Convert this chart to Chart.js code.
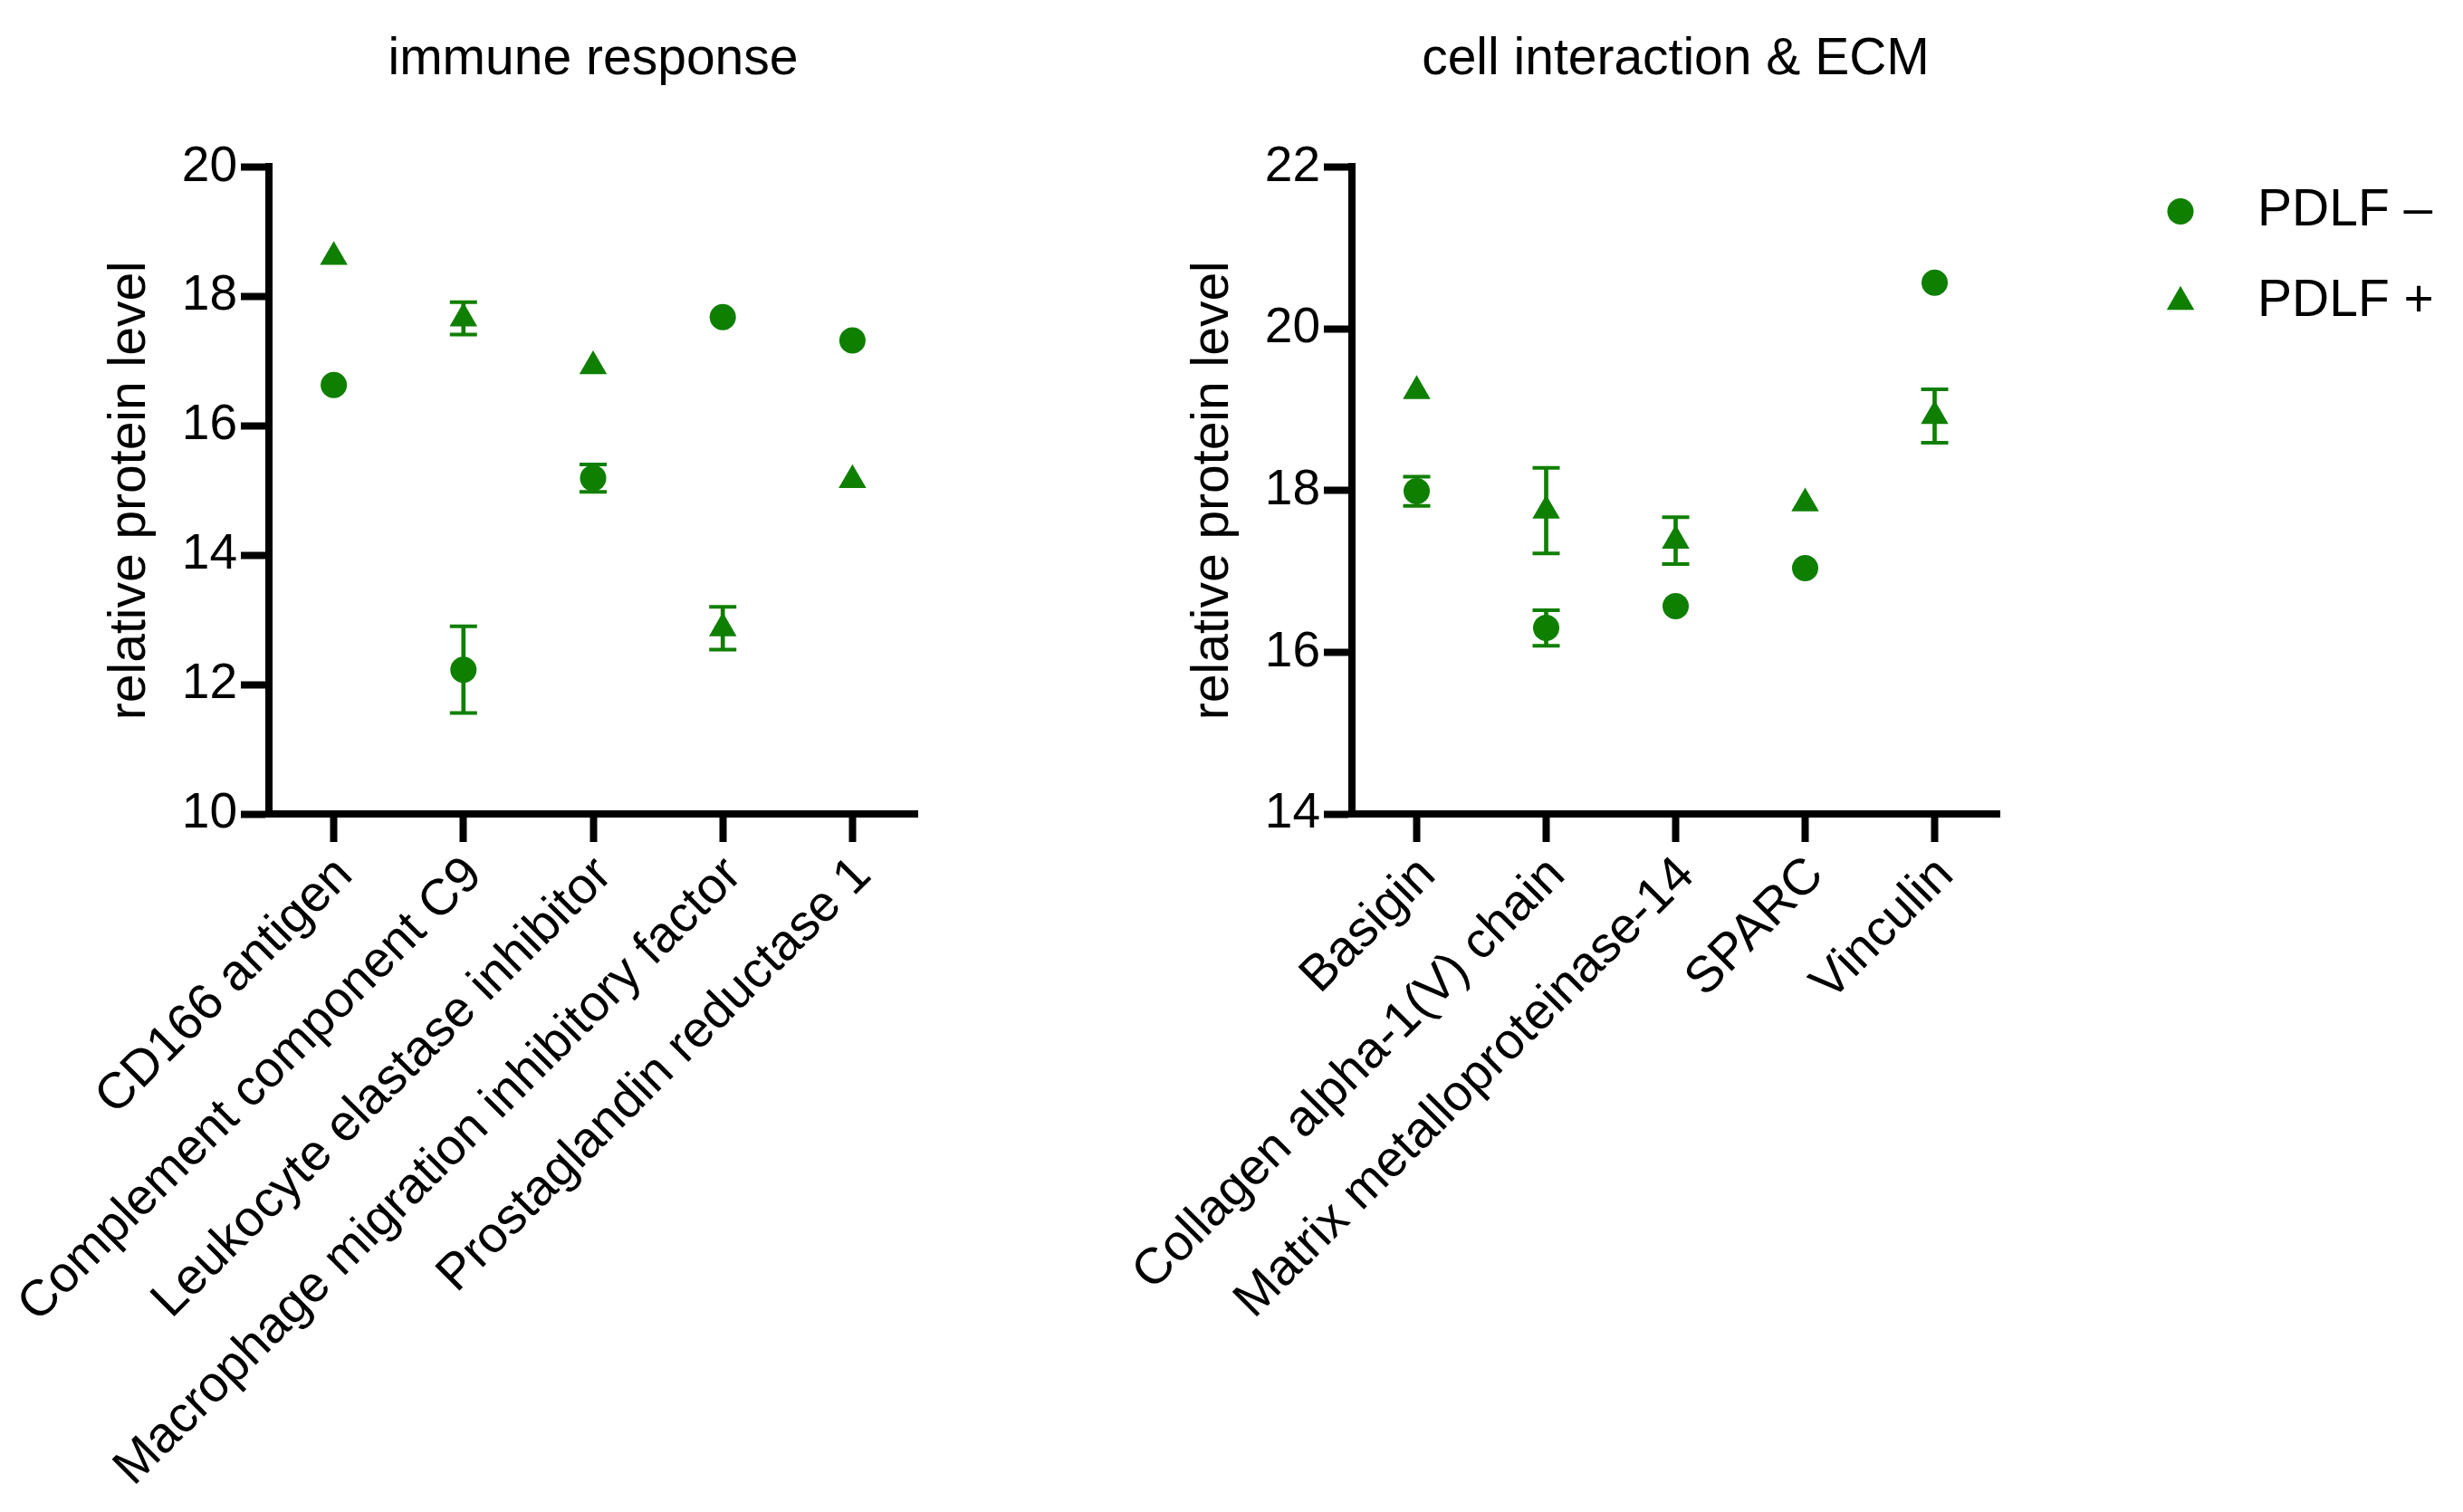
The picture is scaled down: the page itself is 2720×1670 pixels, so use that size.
<!DOCTYPE html>
<html>
<head>
<meta charset="utf-8">
<script src="https://cdn.jsdelivr.net/npm/chart.js"></script>
<style>
  html, body { margin: 0; padding: 0; background: #fff; }
  body { width: 2720px; height: 1670px; position: relative; overflow: hidden; }
  canvas { position: absolute; top: 0; }
  #immune { left: 0; }
  #ecm { left: 1000px; }
</style>
</head>
<body>
<canvas id="immune" width="1100" height="1670"></canvas>
<canvas id="ecm" width="1720" height="1670"></canvas>
<script>
// immune response panel
const immuneLabels = ['CD166 antigen', 'Complement component C9', 'Leukocyte elastase inhibitor',
  'Macrophage migration inhibitory factor', 'Prostaglandin reductase 1'];
const immuneMinus = [16.63, 12.23, 15.19, 17.68, 17.32];
const immuneMinusErr = [null, 0.67, 0.21, null, null];
const immunePlus = [18.61, 17.66, 16.92, 12.87, 15.16];
const immunePlusErr = [null, 0.25, null, 0.33, null];
const immuneTicks = [10, 12, 14, 16, 18, 20];

// cell interaction & ECM panel
const ecmLabels = ['Basigin', 'Collagen alpha-1(V) chain', 'Matrix metalloproteinase-14', 'SPARC', 'Vinculin'];
const ecmMinus = [17.99, 16.30, 16.57, 17.04, 20.57];
const ecmMinusErr = [0.18, 0.22, null, null, null];
const ecmPlus = [19.23, 17.75, 17.38, 17.84, 18.92];
const ecmPlusErr = [null, 0.53, 0.29, null, 0.33];
const ecmTicks = [14, 16, 18, 20, 22];

const seriesNames = ['PDLF \u2013', 'PDLF +'];

const green = '#0f7f00';
Chart.defaults.font.family = '"Liberation Sans", Arial, Helvetica, sans-serif';
Chart.defaults.color = '#000';

// error bars: floating bar for the stem, 'line' points for the caps
function errorBars(labels, means, errs) {
  const stems = means.map((m, i) => (errs[i] == null ? null : [m - errs[i], m + errs[i]]));
  const caps = [];
  means.forEach((m, i) => {
    if (errs[i] == null) return;
    caps.push({ x: labels[i], y: m - errs[i] }, { x: labels[i], y: m + errs[i] });
  });
  return [
    { type: 'bar', data: stems, backgroundColor: green, barThickness: 4, grouped: false, order: 5 },
    { type: 'line', data: caps, showLine: false, pointStyle: 'line', pointRadius: 15,
      pointBorderWidth: 4, pointBorderColor: green, pointBackgroundColor: green, order: 4 }
  ];
}

function markers(label, data, style, radius) {
  return { type: 'line', label: label, data: data, showLine: false, pointStyle: style,
    pointRadius: radius, pointBackgroundColor: green, pointBorderColor: green,
    pointBorderWidth: 0, order: 1 };
}

// legend to the right of the chart area
const sideLegend = {
  id: 'sideLegend',
  afterDraw(chart, args, opts) {
    const { ctx, chartArea } = chart;
    ctx.save();
    ctx.font = '57px "Liberation Sans", Arial, sans-serif';
    ctx.textBaseline = 'middle';
    ctx.textAlign = 'left';
    opts.datasets.forEach((dsIndex, row) => {
      const ds = chart.data.datasets[dsIndex];
      const y = chartArea.top + opts.top + row * opts.rowGap;
      ctx.fillStyle = green;
      Chart.helpers.drawPoint(ctx, { pointStyle: ds.pointStyle, radius: ds.pointRadius, borderWidth: 0 },
        chartArea.right + opts.markerX, y);
      ctx.fillStyle = '#000';
      ctx.fillText(ds.label, chartArea.right + opts.textX, y);
    });
    ctx.restore();
  }
};

function axisStyle() {
  return {
    grid: { display: true, offset: false, drawOnChartArea: false, drawTicks: true,
      tickLength: 31, tickWidth: 8, tickColor: '#000' },
    border: { display: true, color: '#000', width: 8 }
  };
}

function makePanel(id, title, labels, minus, minusErr, plus, plusErr, ticks, yWidth, padRight, titlePad, withLegend) {
  const datasets = [
    ...errorBars(labels, minus, minusErr),
    ...errorBars(labels, plus, plusErr),
    markers(seriesNames[0], minus, 'circle', 14.5),
    markers(seriesNames[1], plus, 'triangle', 17.6)
  ];
  return new Chart(document.getElementById(id), {
    type: 'bar',
    data: { labels: labels, datasets: datasets },
    options: {
      responsive: false,
      animation: false,
      devicePixelRatio: 1,
      layout: { padding: { left: 0, right: padRight, top: 0, bottom: 0 } },
      plugins: {
        legend: { display: false },
        tooltip: { enabled: false },
        title: {
          display: true, text: title, fullSize: false, color: '#000',
          font: { size: 57, weight: 'normal' }, padding: { top: 32, bottom: 84 }
        },
        sideLegend: { datasets: [4, 5], markerX: 200, textX: 285, top: 49, rowGap: 100 }
      },
      scales: {
        x: {
          offset: true,
          ...axisStyle(),
          ticks: { autoSkip: false, minRotation: 45, maxRotation: 45, padding: 4, labelOffset: 12,
            font: { size: 56 } },
          afterFit: (s) => { s.height = 771; }
        },
        y: {
          min: ticks[0],
          max: ticks[ticks.length - 1],
          ...axisStyle(),
          ticks: { stepSize: ticks[1] - ticks[0], padding: 4, font: { size: 55 } },
          title: { display: true, text: 'relative protein level', font: { size: 57 },
            padding: { top: titlePad, bottom: 0 } },
          afterFit: (s) => { s.width = yWidth; }
        }
      }
    },
    plugins: withLegend ? [sideLegend] : []
  });
}

makePanel('immune', 'immune response', immuneLabels, immuneMinus, immuneMinusErr,
  immunePlus, immunePlusErr, immuneTicks, 297, 87, 110, false);
makePanel('ecm', 'cell interaction & ECM', ecmLabels, ecmMinus, ecmMinusErr,
  ecmPlus, ecmPlusErr, ecmTicks, 493, 512, 306, true);
</script>
</body>
</html>
